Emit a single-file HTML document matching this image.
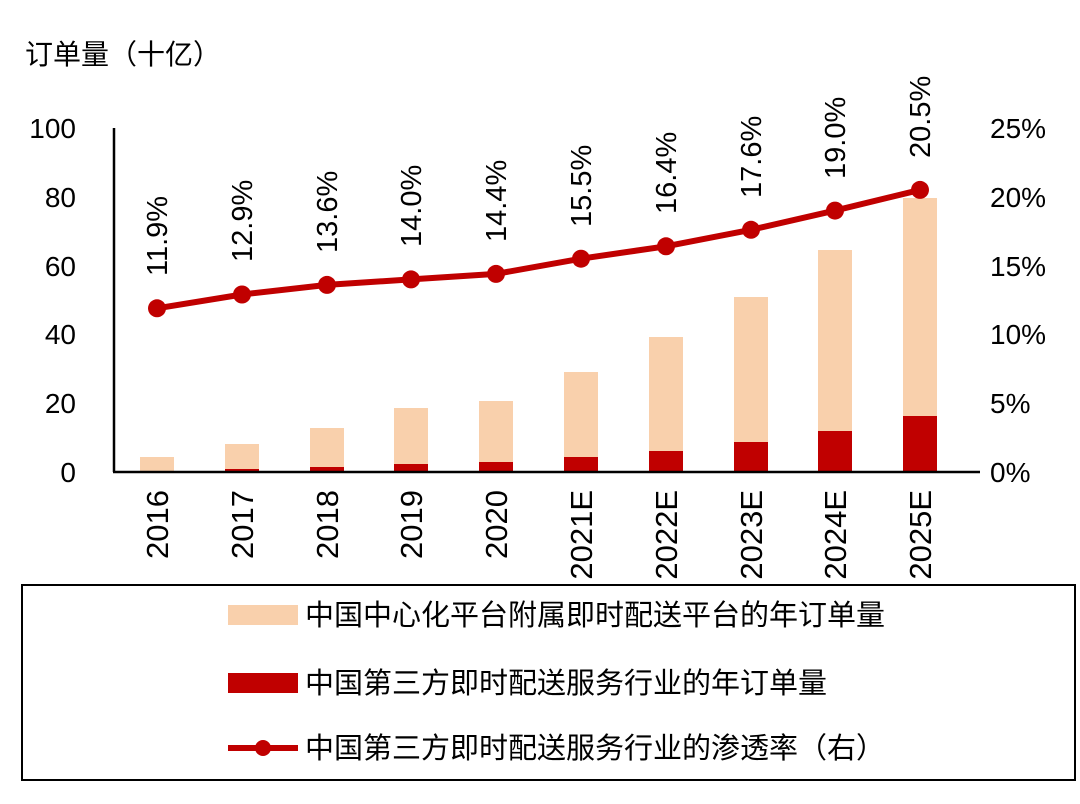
<!DOCTYPE html><html><head><meta charset="utf-8"><style>body{margin:0;background:#fff}svg{display:block}text{font-family:"Liberation Sans","Noto Sans CJK SC",sans-serif;fill:#000}</style></head><body>
<svg width="1080" height="804" viewBox="0 0 1080 804">
<text x="25" y="64" font-size="28">订单量（十亿）</text>
<g font-size="28" text-anchor="end">
<text x="76" y="138">100</text><text x="76" y="207">80</text><text x="76" y="276">60</text><text x="76" y="344">40</text><text x="76" y="413">20</text><text x="76" y="482">0</text></g>
<g font-size="28" text-anchor="start">
<text x="990" y="138">25%</text><text x="990" y="207">20%</text><text x="990" y="276">15%</text><text x="990" y="344">10%</text><text x="990" y="413">5%</text><text x="990" y="482">0%</text></g>
<g fill="#f9d0ac">
<rect x="140" y="457" width="34" height="15"/>
<rect x="225" y="444" width="34" height="28"/>
<rect x="310" y="428" width="34" height="44"/>
<rect x="394" y="408" width="34" height="64"/>
<rect x="479" y="401" width="34" height="71"/>
<rect x="564" y="372" width="34" height="100"/>
<rect x="649" y="337" width="34" height="135"/>
<rect x="734" y="297" width="34" height="175"/>
<rect x="818" y="250" width="34" height="222"/>
<rect x="903" y="198" width="34" height="274"/>
</g>
<g fill="#c00000">
<rect x="140" y="471" width="34" height="1"/>
<rect x="225" y="469" width="34" height="3"/>
<rect x="310" y="467" width="34" height="5"/>
<rect x="394" y="464" width="34" height="8"/>
<rect x="479" y="462" width="34" height="10"/>
<rect x="564" y="457" width="34" height="15"/>
<rect x="649" y="451" width="34" height="21"/>
<rect x="734" y="442" width="34" height="30"/>
<rect x="818" y="431" width="34" height="41"/>
<rect x="903" y="416" width="34" height="56"/>
</g>
<line x1="114" y1="128" x2="114" y2="472" stroke="#000" stroke-width="2.5"/>
<line x1="113" y1="472" x2="980" y2="472" stroke="#000" stroke-width="2.5"/>
<polyline points="157,308.3 242,294.5 327,284.9 411,279.4 496,273.9 581,258.7 666,246.3 751,229.8 835,210.6 920,189.9" fill="none" stroke="#c00000" stroke-width="6"/>
<g fill="#c00000">
<circle cx="157" cy="308.3" r="9"/><circle cx="242" cy="294.5" r="9"/><circle cx="327" cy="284.9" r="9"/><circle cx="411" cy="279.4" r="9"/><circle cx="496" cy="273.9" r="9"/><circle cx="581" cy="258.7" r="9"/><circle cx="666" cy="246.3" r="9"/><circle cx="751" cy="229.8" r="9"/><circle cx="835" cy="210.6" r="9"/><circle cx="920" cy="189.9" r="9"/>
</g>
<g font-size="29">
<text transform="translate(167,276) rotate(-90)">11.9%</text>
<text transform="translate(252,262) rotate(-90)">12.9%</text>
<text transform="translate(337,253) rotate(-90)">13.6%</text>
<text transform="translate(421,247) rotate(-90)">14.0%</text>
<text transform="translate(506,242) rotate(-90)">14.4%</text>
<text transform="translate(591,227) rotate(-90)">15.5%</text>
<text transform="translate(676,214) rotate(-90)">16.4%</text>
<text transform="translate(761,198) rotate(-90)">17.6%</text>
<text transform="translate(845,179) rotate(-90)">19.0%</text>
<text transform="translate(930,158) rotate(-90)">20.5%</text>
</g>
<g font-size="31" text-anchor="end">
<text transform="translate(168,490) rotate(-90)">2016</text>
<text transform="translate(253,490) rotate(-90)">2017</text>
<text transform="translate(338,490) rotate(-90)">2018</text>
<text transform="translate(422,490) rotate(-90)">2019</text>
<text transform="translate(507,490) rotate(-90)">2020</text>
<text transform="translate(592,490) rotate(-90)">2021E</text>
<text transform="translate(677,490) rotate(-90)">2022E</text>
<text transform="translate(762,490) rotate(-90)">2023E</text>
<text transform="translate(846,490) rotate(-90)">2024E</text>
<text transform="translate(931,490) rotate(-90)">2025E</text>
</g>
<rect x="22" y="585" width="1053" height="195" fill="none" stroke="#000" stroke-width="2"/>
<rect x="228" y="605" width="70" height="20" fill="#f9d0ac"/>
<text x="305" y="625" font-size="29">中国中心化平台附属即时配送平台的年订单量</text>
<rect x="228" y="673" width="70" height="20" fill="#c00000"/>
<text x="305" y="693" font-size="29">中国第三方即时配送服务行业的年订单量</text>
<line x1="228" y1="748" x2="298" y2="748" stroke="#c00000" stroke-width="6"/>
<circle cx="263" cy="748" r="8" fill="#c00000"/>
<text x="305" y="758" font-size="29">中国第三方即时配送服务行业的渗透率（右）</text>
</svg></body></html>
